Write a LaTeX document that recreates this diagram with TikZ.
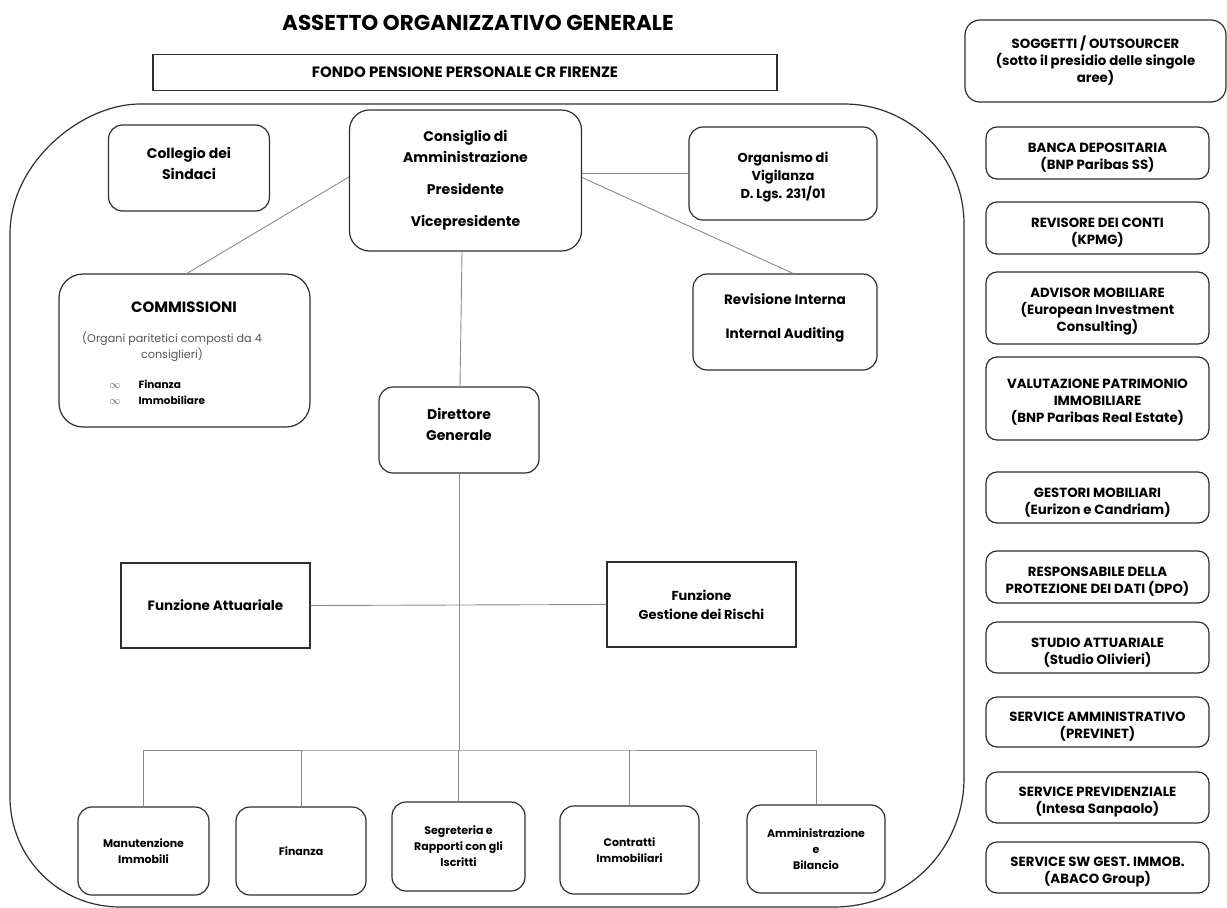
\documentclass[tikz,border=0pt]{standalone}
\usepackage{fontspec}
\setmainfont{Poppins}
\usetikzlibrary{calc}
\definecolor{edgecol}{HTML}{2E2E2E}
\definecolor{wirecol}{HTML}{8A8A8A}
\definecolor{softcol}{HTML}{555555}
% box with its text shifted vertically: #1 box style, #2 text style, #3 name, #4 position, #5 shift, #6 text
\newcommand{\tbox}[6]{%
  \node[#1] (#3) at #4 {};
  \node[#2] (#3t) at ([yshift=#5]#3.center) {#6};}
\begin{document}
\begin{tikzpicture}[x=1pt,y=-1pt,
  box/.style={draw=edgecol, line width=1.2pt, rounded corners=14pt, align=center, inner sep=0pt, font=\bfseries\fontsize{14}{21}\selectfont},
  sqbox/.style={draw=edgecol, line width=1.2pt, align=center, inner sep=0pt, font=\bfseries\fontsize{13.5}{19}\selectfont},
  lowbox/.style={box, font=\bfseries\fontsize{11}{16}\selectfont, minimum height=88pt},
  sidebox/.style={box, rounded corners=11pt, minimum width=223pt, minimum height=51pt},
  bigtext/.style={align=center, inner sep=0pt, font=\bfseries\fontsize{14}{21}\selectfont},
  midtext/.style={align=center, inner sep=0pt, font=\bfseries\fontsize{13}{18}\selectfont},
  sidetext/.style={align=center, inner sep=0pt, font=\bfseries\fontsize{13.3}{17}\selectfont},
  wire/.style={draw=wirecol, line width=0.9pt},
]
\useasboundingbox (0,0) rectangle (1227,908);

% title and fund
\node[font=\bfseries\fontsize{21.5}{25}\selectfont] (title) at (478,23) {ASSETTO ORGANIZZATIVO GENERALE};
\node[sqbox, minimum width=624pt, minimum height=36pt, font=\bfseries\fontsize{15}{17}\selectfont] (fondo) at (465,72.5) {FONDO PENSIONE PERSONALE CR FIRENZE};

% container
\draw[edgecol, line width=1.2pt]
  (10,234) .. controls (10,162.2) and (81.8,104) .. (140,104)
  -- (844,104) .. controls (910.3,104) and (964,157.7) .. (964,224)
  -- (964,778) .. controls (964,849.8) and (906.2,907) .. (834,907)
  -- (120,907) .. controls (59.2,907) and (10,857.8) .. (10,797)
  -- cycle;

% top level
\node[box, rounded corners=20pt, minimum width=232pt, minimum height=141pt] (cda) at (465.5,180.5)
  {Consiglio di\\Amministrazione\\[11pt]Presidente\\[11pt]Vicepresidente};
\tbox{box, minimum width=161pt, minimum height=86pt}{bigtext}{col}{(189,168)}{5pt}{Collegio dei\\Sindaci}
\tbox{box, minimum width=188pt, minimum height=93pt}{midtext}{org}{(783,173.5)}{-4pt}{Organismo di\\Vigilanza\\D. Lgs. 231/01}
\tbox{box, minimum width=184pt, minimum height=96pt}{midtext, font=\bfseries\fontsize{13.6}{18}\selectfont}{rev}{(785,322)}{4pt}{Revisione Interna\\[16pt]Internal Auditing}

% commissioni
\node[box, rounded corners=24pt, minimum width=251pt, minimum height=153pt] (comm) at (184.5,350.5) {};
\node[font=\bfseries\fontsize{15}{18}\selectfont] (commtitle) at (184,307) {COMMISSIONI};
\node[font=\fontsize{11.2}{16}\selectfont, text=softcol, align=center] (commnote) at (172,347)
  {(Organi paritetici composti da 4\\consiglieri)};
\node[anchor=west, font=\bfseries\fontsize{10.5}{16}\selectfont, align=left] (commlist) at (106,392)
  {\makebox[29pt][l]{\textcolor{softcol}{$\infty$}}Finanza\\\makebox[29pt][l]{\textcolor{softcol}{$\infty$}}Immobiliare};

% direction
\tbox{box, minimum width=160pt, minimum height=86pt}{bigtext}{dg}{(459,430)}{6pt}{Direttore\\Generale}
\node[sqbox, minimum width=189pt, minimum height=85pt] (fa) at (215.5,605.5) {Funzione Attuariale};
\node[sqbox, minimum width=189pt, minimum height=85pt, font=\bfseries\fontsize{13}{19}\selectfont] (fgr) at (701.5,604.5) {Funzione\\Gestione dei Rischi};

% bottom units
\node[lowbox, minimum width=131pt] (man) at (143.5,851) {Manutenzione\\Immobili};
\node[lowbox, minimum width=130pt] (fin) at (301,851) {Finanza};
\node[lowbox, minimum width=133pt, minimum height=89pt] (seg) at (458.5,846.5) {Segreteria e\\Rapporti con gli\\Iscritti};
\node[lowbox, minimum width=139pt] (con) at (629.5,850) {Contratti\\Immobiliari};
\node[lowbox, minimum width=138pt] (amm) at (816,849) {Amministrazione\\e\\Bilancio};

% right column
\node[box, rounded corners=15pt, minimum width=261pt, minimum height=82pt, font=\bfseries\fontsize{13.3}{17}\selectfont] (sog) at (1095.5,61)
  {SOGGETTI / OUTSOURCER\\(sotto il presidio delle singole\\aree)};
\tbox{sidebox, minimum height=52pt}{sidetext}{banca}{(1097.5,153)}{-5pt}{BANCA DEPOSITARIA\\(BNP Paribas SS)}
\tbox{sidebox, minimum height=52pt}{sidetext}{revc}{(1097.5,228)}{-5pt}{REVISORE DEI CONTI\\(KPMG)}
\tbox{sidebox, minimum height=72pt}{sidetext}{adv}{(1097.5,308)}{-4pt}{ADVISOR MOBILIARE\\(European Investment\\Consulting)}
\tbox{sidebox, minimum height=83pt}{sidetext}{val}{(1097.5,398.5)}{-4pt}{VALUTAZIONE PATRIMONIO\\IMMOBILIARE\\(BNP Paribas Real Estate)}
\tbox{sidebox}{sidetext}{ges}{(1097.5,497.5)}{-5pt}{GESTORI MOBILIARI\\(Eurizon e Candriam)}
\tbox{sidebox, minimum height=52pt}{sidetext}{dpo}{(1097.5,577)}{-5pt}{RESPONSABILE DELLA\\PROTEZIONE DEI DATI (DPO)}
\tbox{sidebox}{sidetext}{stu}{(1097.5,647.5)}{-5pt}{STUDIO ATTUARIALE\\(Studio Olivieri)}
\tbox{sidebox, minimum height=50pt}{sidetext}{sam}{(1097.5,722)}{-5pt}{SERVICE AMMINISTRATIVO\\(PREVINET)}
\tbox{sidebox}{sidetext}{spr}{(1097.5,797.5)}{-5pt}{SERVICE PREVIDENZIALE\\(Intesa Sanpaolo)}
\tbox{sidebox}{sidetext}{ssw}{(1097.5,867.5)}{-5pt}{SERVICE SW GEST. IMMOB.\\(ABACO Group)}

% connectors
\coordinate (bus) at (459,750);
\draw[wire] ([yshift=3.5pt]cda.west) -- ([xshift=2.5pt]comm.north);
\draw[wire] (org.west) -- (org.west -| cda.east);
\draw[wire] ([yshift=3pt]cda.east) -- ([xshift=8pt]rev.north);
\draw[wire] ([xshift=-3.5pt]cda.south) -- ([xshift=1pt]dg.north);
\draw[wire] (dg.south) -- (bus);
\draw[wire] (fa.east) -- (fgr.west);
\draw[wire] (man.north) |- (bus) -| (amm.north);
\foreach \n in {fin,seg,con} \draw[wire] (\n.north) -- (\n.north |- bus);
\end{tikzpicture}
\end{document}
